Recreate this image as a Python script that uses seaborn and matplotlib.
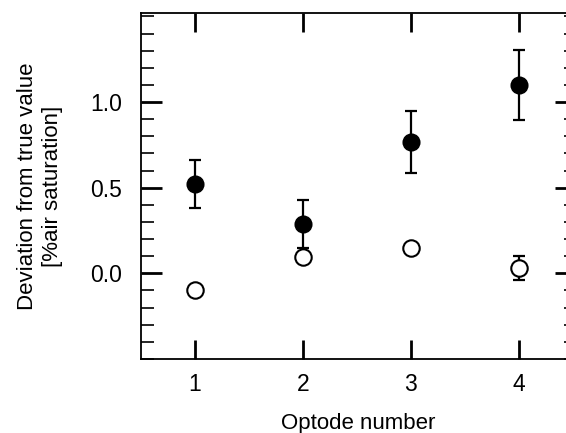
import matplotlib
matplotlib.use("Agg")
import matplotlib.pyplot as plt
import seaborn as sns
import pandas as pd
from matplotlib.ticker import MultipleLocator

optode = [1, 2, 3, 4]
filled_vals = [0.52, 0.29, 0.765, 1.10]
filled_err = [0.14, 0.14, 0.18, 0.205]
open_vals = [-0.095, 0.095, 0.15, 0.03]
open_err = [0.0, 0.0, 0.0, 0.07]
xticklabels = ["1", "2", "3", "4"]
yticks = [0.0, 0.5, 1.0]

sns.set_style("ticks")
plt.rcParams['font.family'] = ['Liberation Sans', 'DejaVu Sans']
plt.rcParams['text.color'] = 'black'
plt.rcParams['axes.labelcolor'] = 'black'

fig = plt.figure(figsize=(5.66, 4.33), dpi=100)
ax = fig.add_axes([141/566, 1-359/433, (576-141)/566, (359-13)/433])

df_f = pd.DataFrame({"x": optode, "y": filled_vals, "e": filled_err})
df_o = pd.DataFrame({"x": optode, "y": open_vals, "e": open_err})

ax.errorbar(df_f["x"], df_f["y"], yerr=df_f["e"], fmt="none", ecolor="black",
            elinewidth=1.6, capsize=4, capthick=1.6, zorder=2)
oe = df_o[df_o["e"] > 0]
ax.errorbar(oe["x"], oe["y"], yerr=oe["e"], fmt="none", ecolor="black",
            elinewidth=1.6, capsize=4, capthick=1.6, zorder=2)

sns.scatterplot(data=df_f, x="x", y="y", ax=ax, s=140, color="black",
                edgecolor="black", linewidth=1.2, zorder=3, legend=False)
sns.scatterplot(data=df_o, x="x", y="y", ax=ax, s=140, facecolor="white",
                edgecolor="black", linewidth=1.5, zorder=3, legend=False)

ax.set_xlim(0.5, 4.53)
ax.set_ylim(-0.5, 1.52)
ax.set_xticks(optode)
ax.set_xticklabels(xticklabels)
ax.set_yticks(yticks)
ax.set_yticklabels([f"{v:.1f}" for v in yticks])
ax.yaxis.set_minor_locator(MultipleLocator(0.1))

for s in ax.spines.values():
    s.set_visible(True)
    s.set_linewidth(1.3)
    s.set_color("black")

ax.tick_params(axis="both", which="major", direction="in", length=14, width=2,
               labelsize=16.5, top=True, right=True, colors="black",
               labelcolor="black")
ax.tick_params(axis="x", which="major", pad=10)
ax.tick_params(axis="y", which="major", pad=13.5, length=15, width=2)
ax.tick_params(axis="y", which="minor", direction="in", length=9, width=1.2,
               left=True, right=True, colors="black")

ax.set_xlabel("Optode number", fontsize=16, labelpad=12, color="black")
ax.set_ylabel("Deviation from true value\n[%air saturation]", fontsize=16,
              labelpad=20, color="black")

fig.savefig("out.png", dpi=100)
